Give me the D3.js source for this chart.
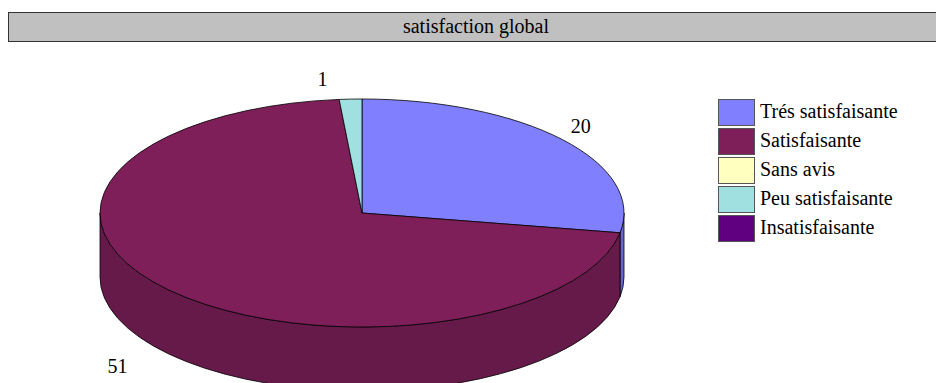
<!DOCTYPE html>
<html>
<head>
<meta charset="utf-8">
<script src="https://cdn.jsdelivr.net/npm/d3@7"></script>
<style>
  body { margin: 0; background: #fff; }
  svg text { font-family: "Liberation Serif", "Times New Roman", serif; fill: #000; }
  .preload { position: absolute; left: 0; top: 0; color: #fff; font-family: "Liberation Serif"; font-size: 2px; }
</style>
</head>
<body>
<div class="preload">satisfaction global Trés</div>
<svg id="chart" width="936" height="383"></svg>
<script>
// data
var title = "satisfaction global";
var categories = ["Trés satisfaisante", "Satisfaisante", "Sans avis", "Peu satisfaisante", "Insatisfaisante"];
var values = [20, 51, 0, 1, 0];
var topColors = ["#8080ff", "#7f1f5a", "#ffffc0", "#a0e0e0", "#600080"];
var sideColors = ["#6666cc", "#661a4a", "#cccc9a", "#80b3b3", "#4d0066"];

var width = 936, height = 383;
var cx = 362, cy = 213, rx = 262, ry = 114, depth = 64;

var svg = d3.select("#chart");

// title bar
svg.append("rect")
    .attr("x", 8.5).attr("y", 12.5)
    .attr("width", 940).attr("height", 29)
    .attr("fill", "#c0c0c0")
    .attr("stroke", "#333");
svg.append("text")
    .attr("x", 476).attr("y", 33)
    .attr("text-anchor", "middle")
    .attr("font-size", "20px")
    .text(title);

var pie = d3.pie().sort(null).value(function (d) { return d; });
var arcs = pie(values);

// point on the ellipse for a d3.pie angle (0 = top, clockwise)
function px(a) { return cx + rx * Math.sin(a); }
function py(a) { return cy - ry * Math.cos(a); }

function topPath(d) {
    var large = (d.endAngle - d.startAngle) > Math.PI ? 1 : 0;
    return "M" + cx + "," + cy +
        "L" + px(d.startAngle) + "," + py(d.startAngle) +
        "A" + rx + "," + ry + " 0 " + large + " 1 " + px(d.endAngle) + "," + py(d.endAngle) + "Z";
}

function sidePath(d) {
    var s = Math.max(d.startAngle, Math.PI / 2);
    var e = Math.min(d.endAngle, 3 * Math.PI / 2);
    if (e <= s) return null;
    var large = (e - s) > Math.PI ? 1 : 0;
    return "M" + px(s) + "," + py(s) +
        "A" + rx + "," + ry + " 0 " + large + " 1 " + px(e) + "," + py(e) +
        "L" + px(e) + "," + (py(e) + depth) +
        "A" + rx + "," + ry + " 0 " + large + " 0 " + px(s) + "," + (py(s) + depth) + "Z";
}

var visible = arcs.filter(function (d) { return d.value > 0; });

// side walls first
svg.selectAll(".side")
    .data(visible.filter(function (d) { return sidePath(d) !== null; }))
    .join("path")
    .attr("class", "side")
    .attr("d", sidePath)
    .attr("fill", function (d) { return sideColors[d.index]; })
    .attr("stroke", "#000")
    .attr("stroke-width", 0.8);

// top faces
svg.selectAll(".top")
    .data(visible)
    .join("path")
    .attr("class", "top")
    .attr("d", topPath)
    .attr("fill", function (d) { return topColors[d.index]; })
    .attr("stroke", "#000")
    .attr("stroke-width", 0.8);

// value labels, pushed out from the slice middle
svg.selectAll(".lbl")
    .data(visible)
    .join("text")
    .attr("class", "lbl")
    .attr("font-size", "20px")
    .attr("text-anchor", function (d) {
        var a = (d.startAngle + d.endAngle) / 2;
        return Math.sin(a) < 0 ? "end" : "start";
    })
    .attr("x", function (d) {
        var a = (d.startAngle + d.endAngle) / 2;
        return cx + rx * 1.1 * Math.sin(a) + (Math.sin(a) < 0 ? -22 : -12);
    })
    .attr("y", function (d) {
        var a = (d.startAngle + d.endAngle) / 2;
        var y = cy - ry * 1.17 * Math.cos(a) + 6;
        if (Math.cos(a) < 0) y += depth;
        return y;
    })
    .text(function (d) { return d.value; });

// legend
var legend = svg.append("g").attr("transform", "translate(718,99)");
var item = legend.selectAll("g")
    .data(categories)
    .join("g")
    .attr("transform", function (d, i) { return "translate(0," + (i * 29) + ")"; });
item.append("rect")
    .attr("x", 0.5).attr("y", 0.5)
    .attr("width", 36).attr("height", 26)
    .attr("fill", function (d, i) { return topColors[i]; })
    .attr("stroke", "#555");
item.append("text")
    .attr("x", 42).attr("y", 19)
    .attr("font-size", "20px")
    .text(function (d) { return d; });
</script>
</body>
</html>
